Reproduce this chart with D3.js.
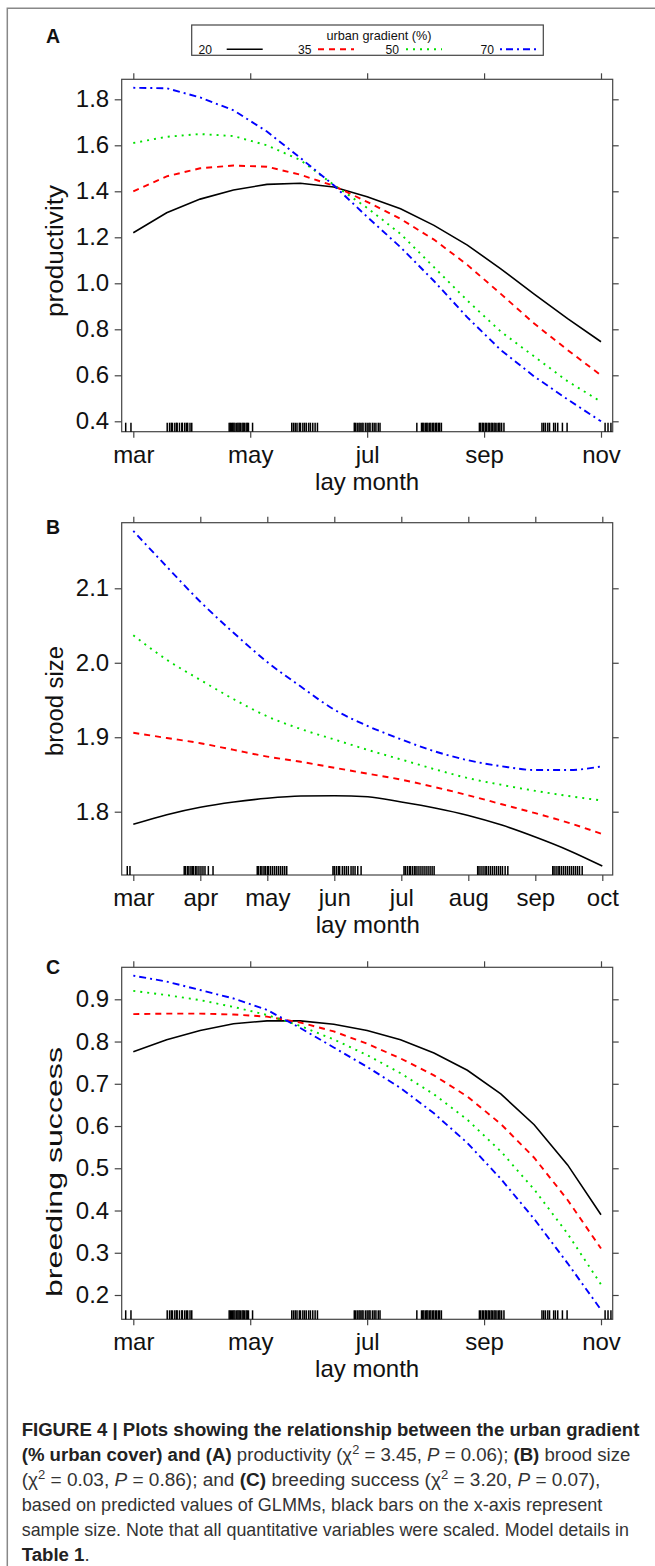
<!DOCTYPE html>
<html>
<head>
<meta charset="utf-8">
<script src="https://cdn.jsdelivr.net/npm/d3@7"></script>
<style>
  body { margin: 0; background: #fff; }
  svg { display: block; font-family: "Liberation Sans", Arial, Helvetica, sans-serif; }
</style>
</head>
<body>
<div id="chart"></div>
<script>
// urban gradient levels (%)
const urbanLevels = ["20", "35", "50", "70"];

// lay month ticks
const ticksAC = [3, 5, 7, 9, 11];
const labelsAC = ["mar", "may", "jul", "sep", "nov"];
const ticksB = [3, 4, 5, 6, 7, 8, 9, 10];
const labelsB = ["mar", "apr", "may", "jun", "jul", "aug", "sep", "oct"];

// y ticks
const ticksProd = [0.4, 0.6, 0.8, 1.0, 1.2, 1.4, 1.6, 1.8];
const ticksBrood = [1.8, 1.9, 2.0, 2.1];
const ticksSucc = [0.2, 0.3, 0.4, 0.5, 0.6, 0.7, 0.8, 0.9];

// prediction points (lay month)
const monthAC = [3, 3.571, 4.143, 4.714, 5.286, 5.857, 6.429, 7, 7.571, 8.143, 8.714, 9.286, 9.857, 10.429, 11];
const monthB = [3, 3.5, 4, 4.5, 5, 5.5, 6, 6.5, 7, 7.5, 8, 8.5, 9, 9.5, 10];

// A productivity
const prod20 = [1.22, 1.307, 1.366, 1.406, 1.43, 1.435, 1.419, 1.376, 1.324, 1.252, 1.166, 1.063, 0.953, 0.846, 0.746];
const prod35 = [1.40, 1.465, 1.50, 1.512, 1.507, 1.472, 1.424, 1.354, 1.28, 1.19, 1.08, 0.954, 0.825, 0.71, 0.60];
const prod50 = [1.61, 1.637, 1.649, 1.64, 1.60, 1.536, 1.428, 1.328, 1.215, 1.07, 0.925, 0.79, 0.682, 0.574, 0.485];
const prod70 = [1.85, 1.848, 1.808, 1.752, 1.66, 1.545, 1.426, 1.289, 1.157, 1.01, 0.852, 0.71, 0.595, 0.495, 0.40];

// B brood size
const brood20 = [1.783, 1.796, 1.806, 1.813, 1.818, 1.821, 1.8215, 1.82, 1.813, 1.805, 1.795, 1.782, 1.766, 1.748, 1.727];
const brood35 = [1.906, 1.899, 1.892, 1.883, 1.874, 1.867, 1.859, 1.851, 1.843, 1.833, 1.822, 1.81, 1.798, 1.785, 1.77];
const brood50 = [2.037, 2.004, 1.977, 1.951, 1.928, 1.911, 1.897, 1.883, 1.87, 1.857, 1.845, 1.836, 1.828, 1.821, 1.815];
const brood70 = [2.177, 2.129, 2.082, 2.04, 2.001, 1.968, 1.937, 1.915, 1.897, 1.881, 1.869, 1.861, 1.856, 1.856, 1.861];

// C breeding success
const succ20 = [0.776, 0.804, 0.826, 0.842, 0.849, 0.849, 0.841, 0.826, 0.804, 0.773, 0.732, 0.676, 0.603, 0.508, 0.39];
const succ35 = [0.865, 0.866, 0.866, 0.864, 0.859, 0.845, 0.824, 0.795, 0.76, 0.72, 0.67, 0.605, 0.525, 0.425, 0.31];
const succ50 = [0.920, 0.910, 0.898, 0.882, 0.863, 0.837, 0.805, 0.768, 0.725, 0.675, 0.615, 0.54, 0.45, 0.345, 0.225];
const succ70 = [0.956, 0.942, 0.922, 0.902, 0.875, 0.832, 0.786, 0.74, 0.69, 0.63, 0.56, 0.475, 0.38, 0.275, 0.165];

// rug (sample lay dates), black bars on x-axis
const rugAC = [2.87, 2.96,
  3.58, 3.62, 3.65, 3.67, 3.71, 3.74, 3.75, 3.79, 3.83, 3.84, 3.88, 3.91, 3.93, 3.97, 4.00,
  4.64, 4.66, 4.68, 4.70, 4.72, 4.74, 4.77, 4.79, 4.81, 4.83, 4.86, 4.88, 4.90, 4.93, 4.95, 4.97, 5.04,
  5.71, 5.74, 5.77, 5.80, 5.84, 5.86, 5.90, 5.93, 5.96, 6.00, 6.03, 6.07, 6.11, 6.15,
  6.78, 6.80, 6.83, 6.86, 6.88, 6.91, 6.93, 6.97, 7.00, 7.03, 7.05, 7.09, 7.12, 7.15, 7.19, 7.22,
  7.85, 7.93, 7.95, 7.97, 8.00, 8.02, 8.04, 8.07, 8.09, 8.12, 8.14, 8.17, 8.19, 8.22, 8.24, 8.27,
  8.92, 8.94, 8.97, 8.99, 9.02, 9.04, 9.07, 9.09, 9.12, 9.14, 9.17, 9.19, 9.22, 9.25, 9.27, 9.30, 9.34,
  9.99, 10.02, 10.05, 10.09, 10.12, 10.19, 10.22, 10.26, 10.34, 10.42,
  11.07, 11.12, 11.17];
const rugB = [2.91, 2.95,
  3.76, 3.78, 3.81, 3.83, 3.86, 3.88, 3.90, 3.93, 3.95, 3.98, 4.01, 4.04, 4.07, 4.12, 4.19,
  4.85, 4.87, 4.90, 4.92, 4.95, 4.97, 5.00, 5.02, 5.05, 5.08, 5.11, 5.14, 5.17, 5.20, 5.23, 5.26, 5.29,
  5.98, 6.00, 6.03, 6.06, 6.08, 6.12, 6.15, 6.18, 6.21, 6.25, 6.28, 6.31, 6.35, 6.40,
  7.04, 7.06, 7.09, 7.12, 7.14, 7.17, 7.20, 7.22, 7.25, 7.28, 7.31, 7.34, 7.37, 7.40, 7.43, 7.46, 7.49,
  8.14, 8.16, 8.19, 8.22, 8.25, 8.27, 8.30, 8.33, 8.36, 8.39, 8.42, 8.45, 8.48, 8.51, 8.55, 8.59,
  9.26, 9.28, 9.31, 9.34, 9.36, 9.39, 9.42, 9.45, 9.48, 9.51, 9.54, 9.57, 9.60, 9.63, 9.66, 9.70];

// line styles per urban level
const lineCol = ["#000000", "#ff0000", "#00e000", "#0000ff"];
const lineDash = [null, "6,5", "2,5", "2,4,7,4"];
const axisCol = "#444";

const svg = d3.select("#chart").append("svg")
  .attr("width", 655)
  .attr("height", 1566);

// outer frame
svg.append("path")
  .attr("d", "M7.3,1566V8.3H655")
  .attr("fill", "none")
  .attr("stroke", "#888")
  .attr("stroke-width", 1.5);

function drawPanel(p) {
  const x = d3.scaleLinear().domain(p.xDomain).range(p.xRange);
  const y = d3.scaleLinear().domain(p.yDomain).range(p.yRange);
  const [bx0, by0, bx1, by1] = p.box;
  const g = svg.append("g");

  g.append("rect")
    .attr("x", bx0).attr("y", by0)
    .attr("width", bx1 - bx0).attr("height", by1 - by0)
    .attr("fill", "none")
    .attr("stroke", axisCol)
    .attr("stroke-width", 1.2);

  // left axis with labels
  const left = g.append("g")
    .attr("transform", `translate(${bx0},0)`)
    .call(d3.axisLeft(y).tickValues(p.yTicks).tickFormat(d3.format(".1f")).tickSize(7).tickPadding(5.5));
  // right ticks
  const right = g.append("g")
    .attr("transform", `translate(${bx1},0)`)
    .call(d3.axisRight(y).tickValues(p.yTicks).tickFormat("").tickSize(6));
  // bottom axis with month labels
  const bottom = g.append("g")
    .attr("transform", `translate(0,${by1})`)
    .call(d3.axisBottom(x).tickValues(p.xTicks).tickFormat((d, i) => p.xLabels[i]).tickSize(6).tickPadding(8));
  // top ticks
  const top = g.append("g")
    .attr("transform", `translate(0,${by0})`)
    .call(d3.axisTop(x).tickValues(p.xTicks).tickFormat("").tickSize(6));

  [left, right, bottom, top].forEach(a => {
    a.select(".domain").remove();
    a.selectAll("line").attr("stroke", axisCol).attr("stroke-width", 1.2);
    a.selectAll("text")
      .attr("font-family", "'Liberation Sans', Arial, sans-serif")
      .attr("font-size", 24)
      .attr("fill", "#111");
  });

  // rug
  g.append("g").selectAll("line")
    .data(p.rug)
    .enter()
    .append("line")
    .attr("x1", d => x(d)).attr("x2", d => x(d))
    .attr("y1", by1).attr("y2", by1 - 9)
    .attr("stroke", "#000")
    .attr("stroke-width", 1.5);

  // prediction curves
  const line = d3.line()
    .x((d, i) => x(p.months[i]))
    .y(d => y(d))
    .curve(p.curve);

  g.append("g").selectAll("path")
    .data(p.series)
    .enter()
    .append("path")
    .attr("d", d => line(d))
    .attr("fill", "none")
    .attr("stroke", (d, i) => lineCol[i])
    .attr("stroke-width", (d, i) => i == 0 ? 1.6 : 1.9)
    .attr("stroke-dasharray", (d, i) => lineDash[i]);

  // axis titles
  g.append("text")
    .attr("x", (p.xRange[0] + p.xRange[1]) / 2)
    .attr("y", by1 + 58)
    .attr("text-anchor", "middle")
    .attr("font-size", 24)
    .attr("fill", "#111")
    .text("lay month");

  g.append("text")
    .attr("transform", `translate(${p.ylabPos[0]},${p.ylabPos[1]}) rotate(-90)`)
    .attr("text-anchor", "middle")
    .attr("font-size", p.ylabSize)
    .attr("fill", "#111")
    .attr("textLength", p.ylabLen)
    .attr("lengthAdjust", "spacingAndGlyphs")
    .text(p.ylab);

  g.append("text")
    .attr("x", 46)
    .attr("y", p.letterY)
    .attr("font-size", 19.5)
    .attr("font-weight", "bold")
    .attr("fill", "#111")
    .text(p.letter);
}

drawPanel({
  letter: "A", letterY: 43,
  box: [121.7, 79.3, 612.7, 431.7],
  xDomain: [3, 11], xRange: [133.3, 601],
  yDomain: [0.4, 1.8], yRange: [421.3, 99.3],
  xTicks: ticksAC, xLabels: labelsAC, yTicks: ticksProd,
  months: monthAC, series: [prod20, prod35, prod50, prod70],
  rug: rugAC, curve: d3.curveLinear,
  ylab: "productivity", ylabPos: [63, 251], ylabLen: 132, ylabSize: 23
});

drawPanel({
  letter: "B", letterY: 534,
  box: [121.7, 522.7, 612.7, 875],
  xDomain: [3, 10], xRange: [133.3, 602.3],
  yDomain: [1.8, 2.1], yRange: [811.7, 588.3],
  xTicks: ticksB, xLabels: labelsB, yTicks: ticksBrood,
  months: monthB, series: [brood20, brood35, brood50, brood70],
  rug: rugB, curve: d3.curveMonotoneX,
  ylab: "brood size", ylabPos: [63, 701], ylabLen: 110, ylabSize: 23
});

drawPanel({
  letter: "C", letterY: 974,
  box: [121.7, 967.3, 612.7, 1319.3],
  xDomain: [3, 11], xRange: [133.3, 601],
  yDomain: [0.2, 0.9], yRange: [1295, 999.3],
  xTicks: ticksAC, xLabels: labelsAC, yTicks: ticksSucc,
  months: monthAC, series: [succ20, succ35, succ50, succ70],
  rug: rugAC, curve: d3.curveLinear,
  ylab: "breeding success", ylabPos: [62, 1172], ylabLen: 250, ylabSize: 21.5
});

// legend
const legend = svg.append("g");
legend.append("rect")
  .attr("x", 191.7).attr("y", 25)
  .attr("width", 351.6).attr("height", 30.3)
  .attr("fill", "#fff")
  .attr("stroke", axisCol)
  .attr("stroke-width", 1.2);
legend.append("text")
  .attr("x", 379).attr("y", 40)
  .attr("text-anchor", "middle")
  .attr("font-size", 13.5)
  .attr("fill", "#111")
  .attr("textLength", 105)
  .attr("lengthAdjust", "spacingAndGlyphs")
  .text("urban gradient (%)");

const legLabelRight = [212, 311.5, 399, 494];
const legLineStart = [226.7, 318, 406, 500];
urbanLevels.forEach((lev, i) => {
  legend.append("text")
    .attr("x", legLabelRight[i]).attr("y", 54)
    .attr("text-anchor", "end")
    .attr("font-size", 13.5)
    .attr("fill", "#111")
    .attr("textLength", 13.5)
    .attr("lengthAdjust", "spacingAndGlyphs")
    .text(lev);
  legend.append("line")
    .attr("x1", legLineStart[i]).attr("x2", legLineStart[i] + 36)
    .attr("y1", 49.3).attr("y2", 49.3)
    .attr("stroke", lineCol[i])
    .attr("stroke-width", i == 0 ? 1.6 : 1.9)
    .attr("stroke-dasharray", lineDash[i]);
});

// caption
const captionLines = [
  [{ t: "FIGURE 4 | Plots showing the relationship between the urban gradient", b: 1 }],
  [{ t: "(% urban cover) and (A)", b: 1 }, { t: " productivity (\u03c7" }, { t: "2", sup: 1 }, { t: " = 3.45, " }, { t: "P", i: 1 },
   { t: " = 0.06); " }, { t: "(B)", b: 1 }, { t: " brood size" }],
  [{ t: "(\u03c7" }, { t: "2", sup: 1 }, { t: " = 0.03, " }, { t: "P", i: 1 }, { t: " = 0.86); and " }, { t: "(C)", b: 1 },
   { t: " breeding success (\u03c7" }, { t: "2", sup: 1 }, { t: " = 3.20, " }, { t: "P", i: 1 }, { t: " = 0.07)," }],
  [{ t: "based on predicted values of GLMMs, black bars on the x-axis represent" }],
  [{ t: "sample size. Note that all quantitative variables were scaled. Model details in" }],
  [{ t: "Table 1", b: 1 }, { t: "." }]
];
const captionWidth = [618, 609, 579, 581, 607.6, 68];

captionLines.forEach((segs, li) => {
  const g = svg.append("g").attr("transform", `translate(21.7,${1436 + li * 25})`);
  const txt = g.append("text")
    .attr("x", 0).attr("y", 0)
    .attr("font-size", 17.5)
    .attr("fill", "#333");
  let raised = false;
  segs.forEach(s => {
    const ts = txt.append("tspan").text(s.t);
    if (s.b) ts.attr("font-weight", "bold").attr("fill", "#222");
    if (s.i) ts.attr("font-style", "italic");
    if (s.sup) {
      ts.attr("dy", -7).attr("font-size", 12);
      raised = true;
    } else if (raised) {
      ts.attr("dy", 7);
      raised = false;
    }
  });
  const w = txt.node().getComputedTextLength();
  txt.attr("transform", `scale(${captionWidth[li] / w},1)`);
});
</script>
</body>
</html>
